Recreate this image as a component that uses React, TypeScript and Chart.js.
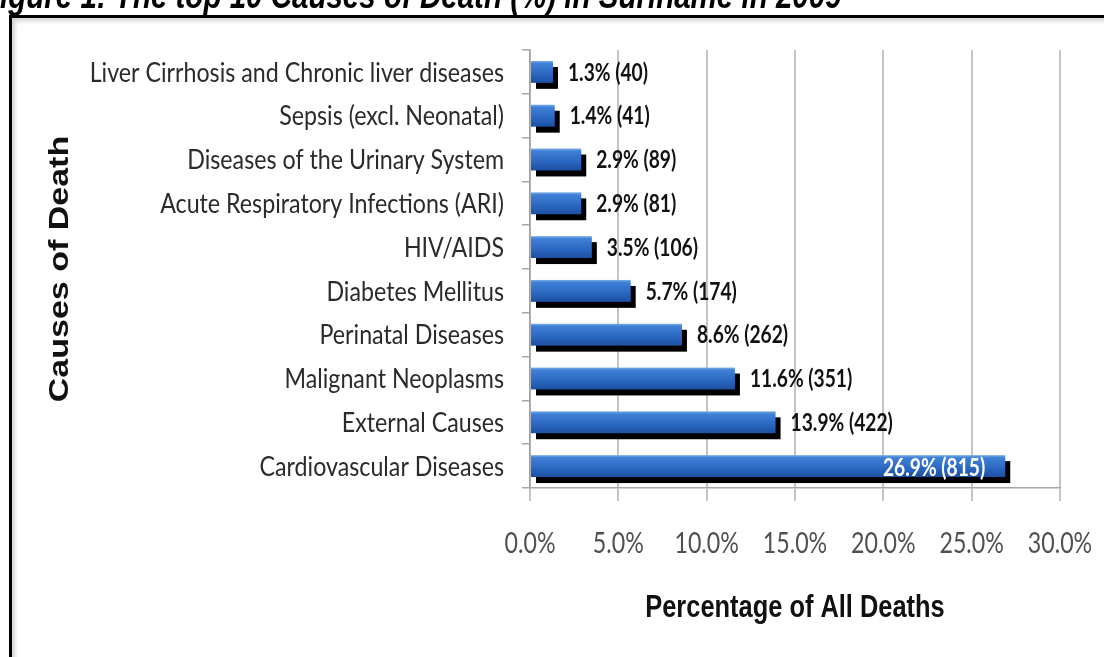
import React, { useEffect, useRef } from "react";
import { Chart, registerables } from "chart.js";

Chart.register(...registerables);

const causes = [
  "Liver Cirrhosis and Chronic liver diseases",
  "Sepsis (excl. Neonatal)",
  "Diseases of the Urinary System",
  "Acute Respiratory Infections (ARI)",
  "HIV/AIDS",
  "Diabetes Mellitus",
  "Perinatal Diseases",
  "Malignant Neoplasms",
  "External Causes",
  "Cardiovascular Diseases",
];
const percentages = [1.3, 1.4, 2.9, 2.9, 3.5, 5.7, 8.6, 11.6, 13.9, 26.9];
const deaths = [40, 41, 89, 81, 106, 174, 262, 351, 422, 815];
const xTicks = [0, 5, 10, 15, 20, 25, 30];
const figureTitle = "Figure 1: The top 10 Causes of Death (%) in Suriname in 2009";
const xTitle = "Percentage of All Deaths";
const yTitle = "Causes of Death";

const LATO = 'Lato, "Open Sans", sans-serif';
const ARIAL = '"Liberation Sans", Arial, sans-serif';

function squeezedText(
  ctx: CanvasRenderingContext2D,
  text: string,
  x: number,
  y: number,
  sx: number,
  align: CanvasTextAlign
) {
  ctx.save();
  ctx.translate(x, y);
  ctx.scale(sx, 1);
  ctx.textAlign = align;
  ctx.fillText(text, 0, 0);
  ctx.restore();
}

const shadowBars = {
  id: "shadowBars",
  beforeDatasetDraw(chart: any, args: any) {
    const ctx = chart.ctx as CanvasRenderingContext2D;
    ctx.save();
    args.meta.data.forEach((el: any) => {
      const { x, y, base, height } = el.getProps(["x", "y", "base", "height"], true);
      const top = y - height / 2;
      const w = x - base;
      ctx.fillStyle = "#000000";
      ctx.fillRect(base + 5, top + 6, w, height);
      const g = ctx.createLinearGradient(0, top, 0, top + height);
      g.addColorStop(0, "#7aace9");
      g.addColorStop(0.12, "#3f80d6");
      g.addColorStop(0.55, "#2d6ac4");
      g.addColorStop(1, "#1c4fa2");
      ctx.fillStyle = g;
      ctx.fillRect(base, top, w, height);
    });
    ctx.restore();
    return false;
  },
};

const textLayer = {
  id: "textLayer",
  afterDraw(chart: any) {
    const ctx = chart.ctx as CanvasRenderingContext2D;
    const ys = chart.scales.y;
    const xs = chart.scales.x;
    ctx.save();
    ctx.textBaseline = "middle";

    // category labels
    ctx.font = `27px ${LATO}`;
    ctx.fillStyle = "#2b2b2b";
    causes.forEach((c, i) => {
      squeezedText(ctx, c, ys.right - 26, ys.getPixelForTick(i) + 1, 0.86, "right");
    });

    // x tick labels
    ctx.font = `29px ${LATO}`;
    ctx.fillStyle = "#505050";
    xTicks.forEach((v) => {
      squeezedText(ctx, v.toFixed(1) + "%", xs.getPixelForValue(v), xs.top + 56, 0.8, "center");
    });

    // x axis title
    ctx.font = `bold 31px ${ARIAL}`;
    ctx.fillStyle = "#111111";
    squeezedText(ctx, xTitle, (xs.left + xs.right) / 2, xs.top + 120, 0.82, "center");

    // value labels
    const meta = chart.getDatasetMeta(0);
    ctx.font = `bold 24px ${LATO}`;
    const sxVal = 0.8;
    meta.data.forEach((el: any, i: number) => {
      const { x, y } = el.getProps(["x", "y"], true);
      const text = `${percentages[i].toFixed(1)}% (${deaths[i]})`;
      const tw = ctx.measureText(text).width * sxVal;
      if (x + 15 + tw > chart.chartArea.right) {
        ctx.fillStyle = "#ffffff";
        squeezedText(ctx, text, x - 20, y + 2, sxVal, "right");
      } else {
        ctx.fillStyle = "#111111";
        squeezedText(ctx, text, x + 15, y + 1, sxVal, "left");
      }
    });

    // y axis title (rotated)
    const cy = (ys.top + ys.bottom) / 2;
    ctx.translate(68, cy);
    ctx.rotate(-Math.PI / 2);
    ctx.scale(1, 0.82);
    ctx.font = `bold 34px ${ARIAL}`;
    ctx.fillStyle = "#111111";
    ctx.textAlign = "center";
    ctx.textBaseline = "alphabetic";
    ctx.fillText(yTitle, 0, 0);
    ctx.restore();
  },
};

export default function App() {
  const canvasRef = useRef<HTMLCanvasElement | null>(null);

  useEffect(() => {
    if (!canvasRef.current) return;
    const chart = new Chart(canvasRef.current, {
      type: "bar",
      data: {
        labels: causes,
        datasets: [
          {
            data: percentages,
            backgroundColor: "#2e69c0",
            barPercentage: 0.5,
            categoryPercentage: 1.0,
          },
        ],
      },
      options: {
        indexAxis: "y",
        animation: false,
        responsive: false,
        maintainAspectRatio: false,
        layout: { padding: { top: 50, right: 44, bottom: 0, left: 0 } },
        plugins: {
          legend: { display: false },
          tooltip: { enabled: false },
          title: { display: false },
        },
        scales: {
          y: {
            type: "category",
            position: "left",
            afterFit: (s: any) => {
              s.width = 530;
              s.paddingTop = 0;
              s.paddingBottom = 0;
            },
            grid: {
              display: true,
              drawOnChartArea: false,
              drawTicks: true,
              tickLength: 8,
              color: "#a8a8a8",
              lineWidth: 1.5,
              offset: true,
            },
            border: { display: true, color: "#a0a0a0", width: 1.5 },
            ticks: { display: false, autoSkip: false },
            title: { display: false },
          },
          x: {
            type: "linear",
            position: "bottom",
            min: 0,
            max: 30,
            afterFit: (s: any) => {
              s.height = 657 - 488;
              s.paddingLeft = 0;
              s.paddingRight = 0;
            },
            afterBuildTicks: (s: any) => {
              s.ticks = xTicks.map((v) => ({ value: v }));
            },
            grid: {
              color: "#c4c4c4",
              lineWidth: 2,
              drawTicks: true,
              tickLength: 13,
            },
            border: { display: true, color: "#a8a8a8", width: 1.5 },
            ticks: { display: false },
            title: { display: false },
          },
        },
      },
      plugins: [shadowBars, textLayer],
    });
    return () => chart.destroy();
  }, []);

  return (
    <div
      style={{
        position: "fixed",
        left: 0,
        top: 0,
        width: 1104,
        height: 657,
        overflow: "hidden",
        background: "#ffffff",
      }}
    >
      <div
        style={{
          position: "absolute",
          left: 9,
          top: 15,
          width: 2000,
          height: 2000,
          borderTop: "3px solid #000",
          borderLeft: "3px solid #000",
          boxShadow: "inset 3px 3px 4px rgba(0,0,0,0.18)",
        }}
      />
      <canvas
        ref={canvasRef}
        width={1104}
        height={657}
        style={{ position: "absolute", left: 0, top: 0, width: 1104, height: 657 }}
      />
      <div
        style={{
          position: "absolute",
          left: -18,
          top: -22,
          whiteSpace: "nowrap",
          fontFamily: ARIAL,
          fontWeight: "bold",
          fontStyle: "italic",
          fontSize: 36,
          lineHeight: "36px",
          color: "#000",
          transform: "scaleX(0.82)",
          transformOrigin: "left top",
        }}
      >
        {figureTitle}
      </div>
    </div>
  );
}
